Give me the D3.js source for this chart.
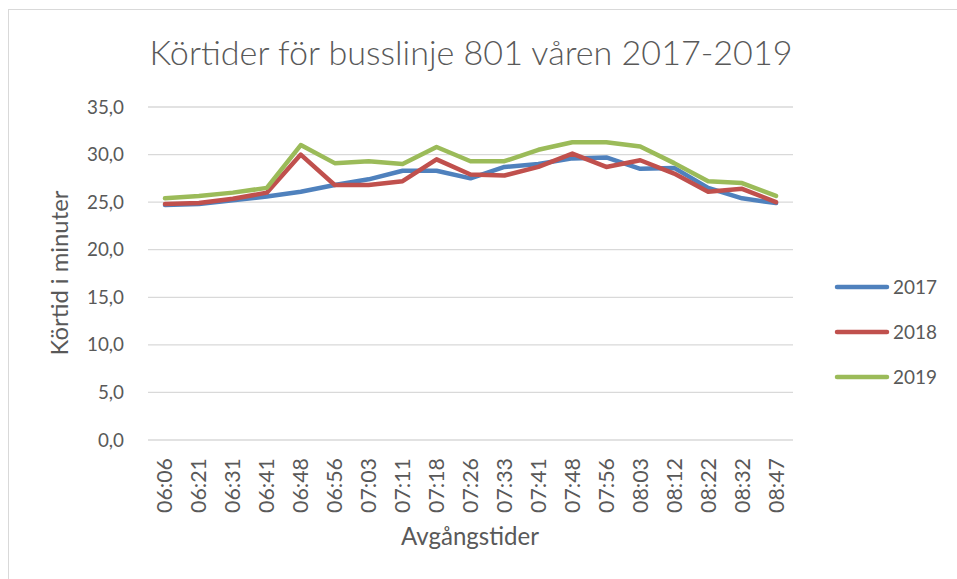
<!DOCTYPE html>
<html><head><meta charset="utf-8">
<script src="https://cdn.jsdelivr.net/npm/d3@7"></script>
<style>body{margin:0;background:#fff}svg{display:block}text{font-family:Lato,"Open Sans",sans-serif;fill:#595959}</style>
</head><body><svg id="c" width="957" height="579"></svg>
<script>
const categories = ["06:06","06:21","06:31","06:41","06:48","06:56","07:03","07:11","07:18","07:26","07:33","07:41","07:48","07:56","08:03","08:12","08:22","08:32","08:47"];
const s2017 = [24.7,24.8,25.2,25.6,26.1,26.8,27.4,28.3,28.3,27.5,28.7,29.0,29.6,29.7,28.5,28.6,26.5,25.4,24.9];
const s2018 = [24.8,24.9,25.35,26.0,30.0,26.8,26.8,27.2,29.5,27.9,27.8,28.7,30.1,28.7,29.4,28.0,26.1,26.4,25.0];
const s2019 = [25.4,25.65,26.0,26.5,31.0,29.1,29.3,29.0,30.8,29.3,29.3,30.5,31.3,31.3,30.85,29.1,27.2,27.0,25.65];
const seriesNames = ["2017","2018","2019"];
const yTicks = [0,5,10,15,20,25,30,35];
const title = "Körtider för busslinje 801 våren 2017-2019";
const yTitle = "Körtid i minuter";
const xTitle = "Avgångstider";

const series = [s2017,s2018,s2019];
const colors = ["#4f81bd","#c0504d","#9bbb59"];
const svg = d3.select("#c");
svg.append("rect").attr("x",8.5).attr("y",9.5).attr("width",1000).attr("height",1000)
  .attr("fill","none").attr("stroke","#d9d9d9");

function fitSize(str, target, weight){
  const t = svg.append("text").attr("font-size",20).attr("font-weight",weight||400).text(str);
  const w = t.node().getComputedTextLength(); t.remove();
  return 20*target/w;
}
const tickFs = fitSize("35,0",37);
const xFs = fitSize("06:06",55);
const legFs = fitSize("2017",44);
const yTitleFs = fitSize(yTitle,165);
const xTitleFs = fitSize(xTitle,138);

const L=148,R=793,T=107,B=440;
const x = d3.scaleBand().domain(categories).range([L,R]);
const y = d3.scaleLinear().domain([0,35]).range([B,T]);
const fmt = v => d3.format(".1f")(v).replace(".",",");

const g = svg.append("g");
g.selectAll("line.grid").data(yTicks).join("line")
  .attr("x1",L).attr("x2",R).attr("y1",d=>y(d)).attr("y2",d=>y(d))
  .attr("stroke","#d9d9d9").attr("stroke-width",1.3);
g.selectAll("text.yt").data(yTicks).join("text")
  .attr("x",124).attr("y",d=>y(d)).attr("dy","0.35em").attr("text-anchor","end")
  .attr("font-size",tickFs).text(fmt);

g.selectAll("text.xt").data(categories).join("text")
  .attr("transform",d=>`translate(${x(d)+x.bandwidth()/2},458) rotate(-90)`)
  .attr("text-anchor","end").attr("dy","0.35em").attr("font-size",xFs).text(d=>d);

const line = d3.line().x((d,i)=>x(categories[i])+x.bandwidth()/2).y(d=>y(d));
series.forEach((s,k)=>{
  g.append("path").datum(s).attr("d",line).attr("fill","none")
   .attr("stroke",colors[k]).attr("stroke-width",4.5).attr("stroke-linejoin","round").attr("stroke-linecap","round");
});

const tFs = fitSize(title,643,300);
svg.append("text").attr("x",471).attr("y",65).attr("text-anchor","middle")
  .attr("font-weight",300).attr("font-size",tFs).text(title);

svg.append("text").attr("transform","translate(68,273) rotate(-90)").attr("text-anchor","middle")
  .attr("font-size",yTitleFs).text(yTitle);
svg.append("text").attr("x",470).attr("y",545).attr("text-anchor","middle").attr("font-size",xTitleFs).text(xTitle);

const lg = svg.append("g");
seriesNames.forEach((n,k)=>{
  const yy = 287 + k*45;
  lg.append("line").attr("x1",837).attr("x2",887).attr("y1",yy).attr("y2",yy)
    .attr("stroke",colors[k]).attr("stroke-width",4.5).attr("stroke-linecap","round");
  lg.append("text").attr("x",893).attr("y",yy).attr("dy","0.35em").attr("font-size",legFs).text(n);
});
</script></body></html>
